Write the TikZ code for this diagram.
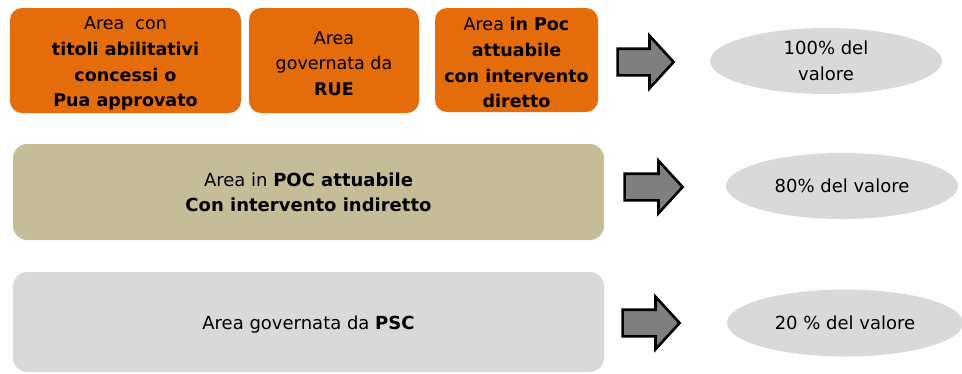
\documentclass[tikz,border=0pt]{standalone}
\usepackage{fontspec}
\setmainfont{DejaVu Sans}
\usetikzlibrary{shapes.geometric,shapes.arrows}
\definecolor{orangebox}{HTML}{E46C0A}
\definecolor{tanbox}{HTML}{C4BD97}
\definecolor{greybox}{HTML}{D9D9D9}
\definecolor{arrowgrey}{HTML}{7F7F7F}
\newcommand{\lowerby}{\rule{0pt}{19pt}}
\tikzset{
  topbox/.style={fill=orangebox, rounded corners=12pt, align=center, inner sep=0pt,
    font=\fontsize{17.5}{25.7}\selectfont},
  widebox/.style={rounded corners=14pt, inner sep=0pt, align=center,
    minimum width=591pt, font=\fontsize{18}{25}\selectfont},
  valell/.style={ellipse, fill=greybox, inner sep=0pt, align=center,
    font=\fontsize{18}{26}\selectfont},
  bigarrow/.style={single arrow, draw=black, line width=2.6pt, fill=arrowgrey,
    inner xsep=0pt, inner ysep=12pt, single arrow head extend=13pt,
    single arrow tip angle=95, shape border rotate=0},
}
\begin{document}
\begin{tikzpicture}[x=1pt,y=-1pt]
\useasboundingbox (0,0) rectangle (962,373);
% row 1
\node[topbox, minimum width=231pt, minimum height=105pt] (b1) at (125.5,60.5)
  {\lowerby Area\ \ con\\ \textbf{titoli abilitativi}\\ \textbf{concessi o}\\ \textbf{Pua approvato}};
\node[topbox, minimum width=170pt, minimum height=105pt] (b2) at (334,60.5)
  {\lowerby Area\\ governata da\\ \textbf{RUE}};
\node[topbox, minimum width=163pt, minimum height=104pt] (b3) at (516.5,60)
  {\lowerby Area \textbf{in Poc}\\ \textbf{attuabile}\\ \textbf{con intervento}\\ \textbf{diretto}};
\node[bigarrow, minimum height=56pt] (a1) at (639.5,62) {};
\node[valell, minimum width=232pt, minimum height=66pt] (e1) at (826,61)
  {100\% del\\ valore};
% row 2
\node[widebox, fill=tanbox, minimum height=96pt] (b4) at (308.5,192)
  {Area in \textbf{POC attuabile}\\ \textbf{Con intervento indiretto}};
\node[bigarrow, minimum height=58pt] (a2) at (647.5,187) {};
\node[valell, minimum width=232pt, minimum height=66pt] (e2) at (842,186)
  {80\% del valore};
% row 3
\node[widebox, fill=greybox, minimum height=100pt] (b5) at (308.5,322)
  {\lowerby Area governata da \textbf{PSC}};
\node[bigarrow, minimum height=57pt] (a3) at (645,323) {};
\node[valell, minimum width=236pt, minimum height=67pt] (e3) at (845,323)
  {20 \% del valore};
\end{tikzpicture}
\end{document}
